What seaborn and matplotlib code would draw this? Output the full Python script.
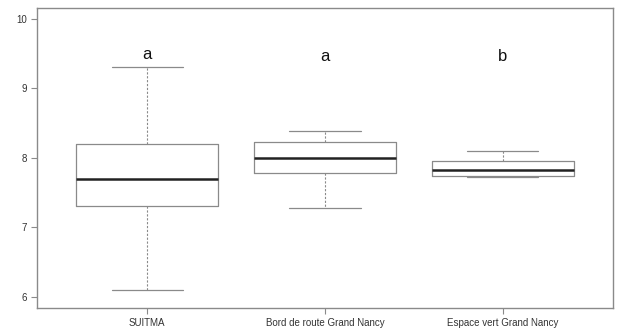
import numpy as np
import pandas as pd
import matplotlib
matplotlib.use("Agg")
import matplotlib.pyplot as plt
import seaborn as sns

# Data (five-number summaries: min, Q1, median, Q3, max)
categories = ["SUITMA", "Bord de route Grand Nancy", "Espace vert Grand Nancy"]
suitma = [6.1, 7.3, 7.7, 8.2, 9.3]
bord = [7.28, 7.78, 8.0, 8.22, 8.39]
espace = [7.73, 7.74, 7.82, 7.95, 8.09]
letters = ["a", "a", "b"]
letter_y = [9.48, 9.45, 9.45]
yticks = [6, 7, 8, 9, 10]

df = pd.DataFrame({
    "group": [categories[0]] * len(suitma) + [categories[1]] * len(bord) + [categories[2]] * len(espace),
    "value": suitma + bord + espace,
})

sns.set_theme(style="white")
plt.rcParams['font.family'] = ['Liberation Sans', 'DejaVu Sans']

fig = plt.figure(figsize=(6.2, 3.29), dpi=100)
ax = fig.add_axes([37 / 620, 1 - 308 / 329, (613 - 37) / 620, (308 - 7.5) / 329])

gray = "#8a8a8a"
sns.boxplot(
    data=df, x="group", y="value", order=categories, ax=ax,
    width=0.8, whis=np.inf, color="white", fill=False, linecolor=gray,
    linewidth=0.9,
    boxprops=dict(color=gray, linewidth=0.9),
    whiskerprops=dict(color=gray, linestyle=(0, (2, 1.5)), linewidth=0.8),
    capprops=dict(color=gray, linewidth=0.9),
    medianprops=dict(color="#222222", linewidth=1.8),
    capwidths=0.4,
)

for i, (lab, yy) in enumerate(zip(letters, letter_y)):
    ax.text(i, yy, lab, ha="center", va="center", fontsize=12, color="#111111")

ax.set_xlim(-0.62, 2.62)
ax.set_ylim(5.84, 10.16)
ax.set_yticks(yticks)
ax.set_yticklabels([str(t) for t in yticks])
ax.set_xlabel("")
ax.set_ylabel("")

for sp in ax.spines.values():
    sp.set_visible(True)
    sp.set_color(gray)
    sp.set_linewidth(1.0)

ax.tick_params(axis="both", which="both", direction="out", length=4, width=0.8,
               color=gray, labelsize=7, labelcolor="#333333", pad=3,
               left=True, bottom=True)

fig.savefig("out.png", dpi=100, facecolor="white")
